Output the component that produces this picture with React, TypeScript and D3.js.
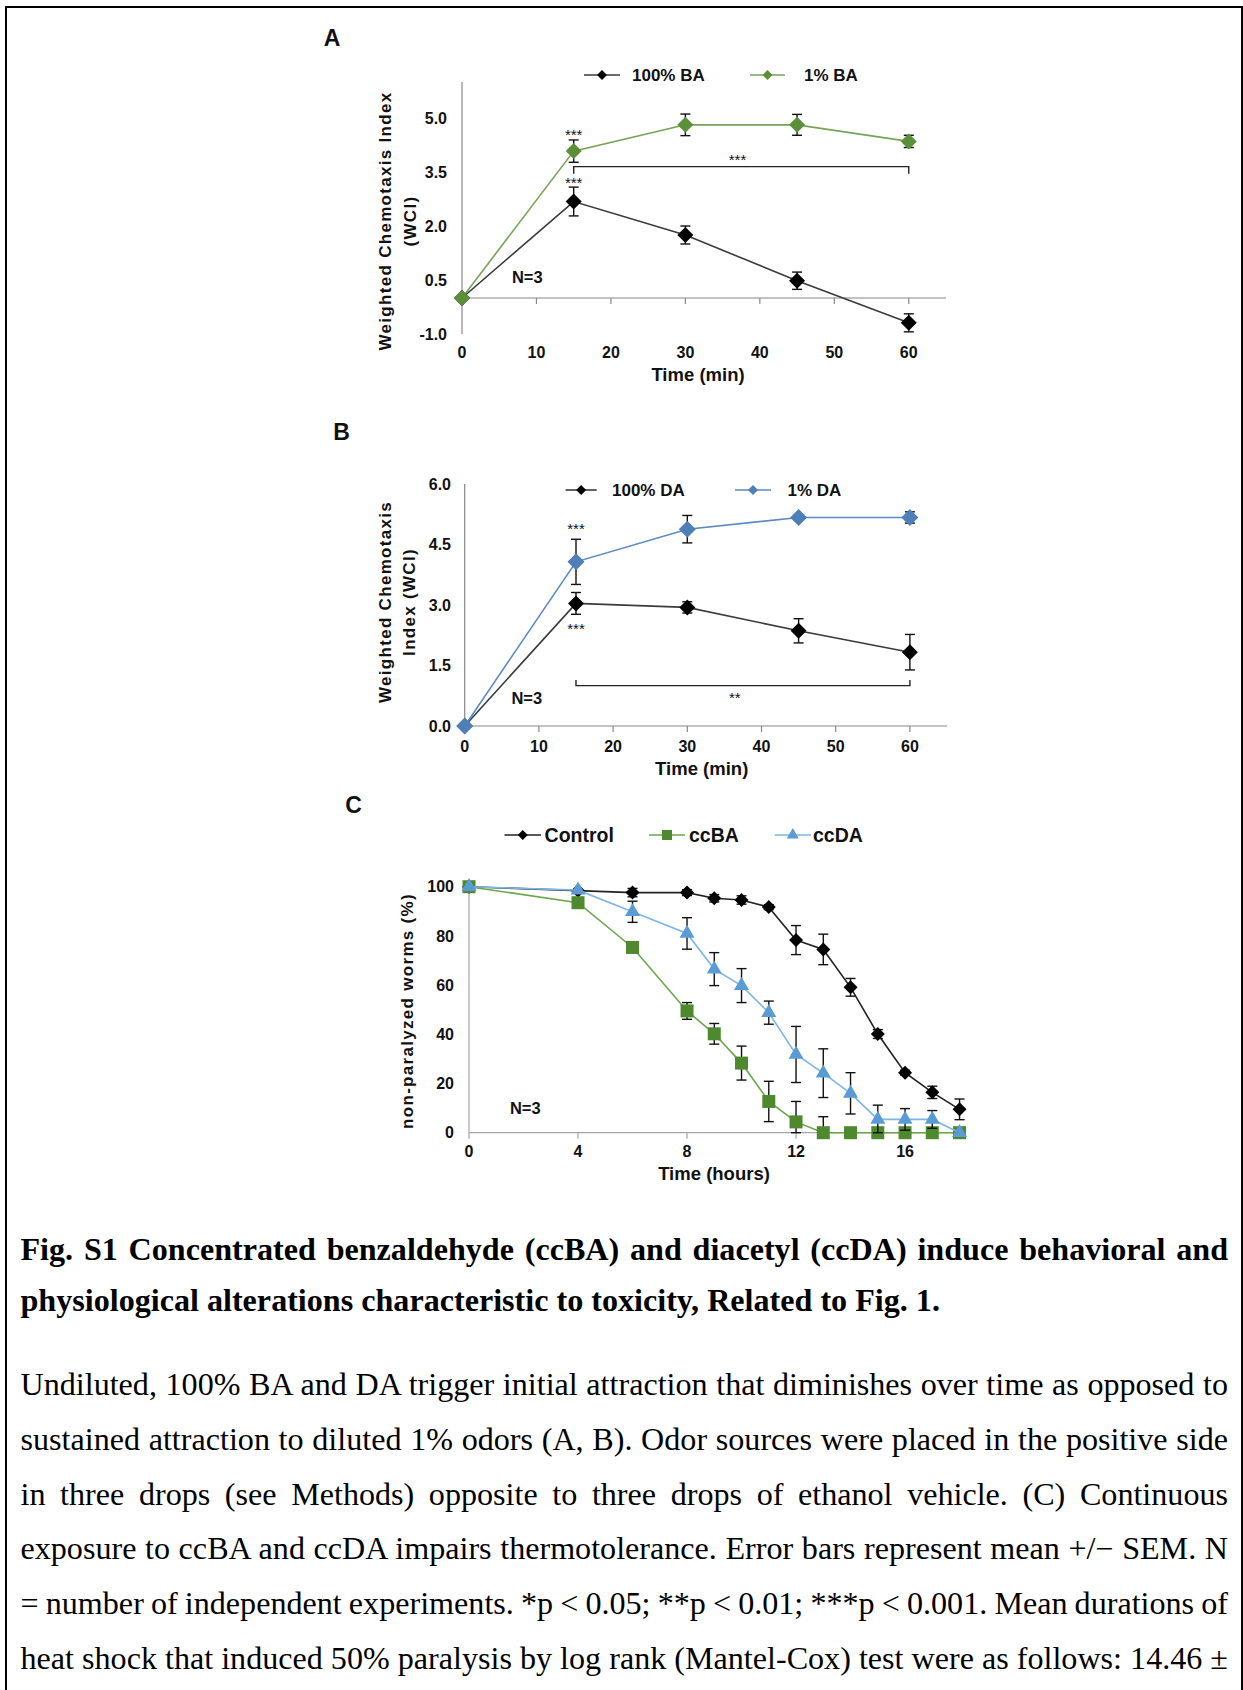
import React from "react";
import * as d3 from "d3";

// ---- panel A / B : chemotaxis (time in min) ----
const chemoTimes = [0, 15, 30, 45, 60];
const minuteTicks = [0, 10, 20, 30, 40, 50, 60];

const baFull = [0, 2.68, 1.75, 0.48, -0.69];
const baFullErr = [0, 0.4, 0.25, 0.24, 0.25];
const baDiluted = [0, 4.08, 4.81, 4.81, 4.35];
const baDilutedErr = [0, 0.31, 0.3, 0.29, 0.17];
const ticksA = [-1, 0.5, 2, 3.5, 5];

const daFull = [0, 3.04, 2.94, 2.36, 1.83];
const daFullErr = [0, 0.27, 0.14, 0.3, 0.44];
const daDiluted = [0, 4.07, 4.88, 5.17, 5.17];
const daDilutedErr = [0, 0.56, 0.34, 0.06, 0.14];
const ticksB = [0, 1.5, 3, 4.5, 6];

// ---- panel C : thermotolerance (time in hours) ----
const hours = [0, 4, 6, 8, 9, 10, 11, 12, 13, 14, 15, 16, 17, 18];
const hourTicks = [0, 4, 8, 12, 16];
const percentTicks = [0, 20, 40, 60, 80, 100];
const control = [100, 98.4, 97.6, 97.6, 95.3, 94.6, 91.7, 78.3, 74.5, 59.1, 40.1, 24.4, 16.4, 9.5];
const controlErr = [0, 0, 1.7, 1.2, 1.5, 1.7, 1, 5.9, 6.2, 3.6, 1.8, 1, 2.5, 4.2];
const ccBA = [100, 93.5, 75.3, 49.5, 40.2, 28.3, 12.7, 4.4, 0, 0, 0, 0, 0, 0];
const ccBAErr = [0, 0, 0, 3.4, 4.2, 6.9, 8.2, 8.3, 6.5, 2, 0, 0, 0, 0];
const ccDA = [100, 98.6, 89.8, 81, 66.5, 59.8, 48.8, 31.8, 24.2, 16, 5.4, 5.4, 5.4, 0];
const ccDAErr = [0, 0, 4.3, 6.4, 6.7, 6.9, 4.7, 11.4, 9.9, 8.4, 5.8, 4.4, 3.6, 0];

// ---- caption ----
const captionTitle = [
  "Fig. S1 Concentrated benzaldehyde (ccBA) and diacetyl (ccDA) induce behavioral and",
  "physiological alterations characteristic to toxicity, Related to Fig. 1.",
];
const captionBody = [
  "Undiluted, 100% BA and DA trigger initial attraction that diminishes over time as opposed to",
  "sustained attraction to diluted 1% odors (A, B). Odor sources were placed in the positive side",
  "in three drops (see Methods) opposite to three drops of ethanol vehicle. (C) Continuous",
  "exposure to ccBA and ccDA impairs thermotolerance. Error bars represent mean +/\u2212 SEM. N",
  "= number of independent experiments. *p < 0.05; **p < 0.01; ***p < 0.001. Mean durations of",
  "heat shock that induced 50% paralysis by log rank (Mantel-Cox) test were as follows: 14.46 \u00b1",
];

const SANS = "'Liberation Sans', Arial, sans-serif";
const SERIF = "'Liberation Serif', 'Times New Roman', serif";

const diamond = (r) => `M0,${-r}L${r},0L0,${r}L${-r},0Z`;
const square = (r) => `M${-r},${-r}H${r}V${r}H${-r}Z`;
const triangle = (r) => {
  const h = r * 1.732;
  return `M0,${(-h * 2) / 3}L${r},${h / 3}L${-r},${h / 3}Z`;
};

function Panel(props) {
  const {
    x, y, times, xTicks, yTicks, yFmt, letter, letterPos, axisColor,
    yLabelX, xLabelY, xTitle, xTitlePos, yTitles, yTitleY, series,
    legend, legendY, legendFont, notes, bracket, nLabel, clampZero,
  } = props;
  const [x0, x1] = x.range();
  const yLo = y(y.domain()[0]);
  const yHi = y(y.domain()[1]);
  const axisY = y(0);

  return (
    <g fontFamily={SANS} fill="#111">
      <text x={letterPos[0]} y={letterPos[1]} dy="0.35em" textAnchor="middle" fontSize={23} fontWeight="bold">
        {letter}
      </text>

      {/* axes */}
      <line x1={x0} x2={x0} y1={yLo} y2={yHi} stroke={axisColor} strokeWidth={1.2} />
      <line x1={x0} x2={x1} y1={axisY} y2={axisY} stroke={axisColor} strokeWidth={1.2} />
      {xTicks.map((t) => (
        <g key={t}>
          <line x1={x(t)} x2={x(t)} y1={axisY} y2={axisY + 6} stroke={axisColor} strokeWidth={1.2} />
          <text x={x(t)} y={xLabelY} dy="0.35em" textAnchor="middle" fontSize={16} fontWeight="bold">
            {t}
          </text>
        </g>
      ))}
      {yTicks.map((t) => (
        <text key={t} x={yLabelX} y={y(t)} dy="0.35em" textAnchor="end" fontSize={16} fontWeight="bold">
          {yFmt(t)}
        </text>
      ))}
      <text x={xTitlePos[0]} y={xTitlePos[1]} dy="0.35em" textAnchor="middle" fontSize={18.5} fontWeight="bold">
        {xTitle}
      </text>
      {yTitles.map((yt) => (
        <text
          key={yt.text}
          transform={`translate(${yt.x},${yTitleY}) rotate(-90)`}
          dy="0.35em"
          textAnchor="middle"
          fontSize={17}
          fontWeight="bold"
          letterSpacing={1.3}
        >
          {yt.text}
        </text>
      ))}

      {/* series */}
      {series.map((s) => {
        const line = d3
          .line()
          .x((_, i) => x(times[i]))
          .y((d) => y(d));
        return (
          <g key={s.name}>
            <path d={line(s.values)} fill="none" stroke={s.line} strokeWidth={1.6} />
            {s.values.map((v, i) => {
              const e = s.errors[i];
              if (!e) return null;
              const lo = clampZero ? Math.max(0, v - e) : v - e;
              const cx = x(times[i]);
              return (
                <g key={i} stroke="#111" strokeWidth={1.4}>
                  <line x1={cx} x2={cx} y1={y(lo)} y2={y(v + e)} />
                  <line x1={cx - 5} x2={cx + 5} y1={y(v + e)} y2={y(v + e)} />
                  {lo < v && <line x1={cx - 5} x2={cx + 5} y1={y(lo)} y2={y(lo)} />}
                </g>
              );
            })}
            {s.values.map((v, i) => (
              <path
                key={"m" + i}
                transform={`translate(${x(times[i])},${y(v)})`}
                d={s.shape(s.size)}
                fill={s.fill}
              />
            ))}
          </g>
        );
      })}

      {/* legend */}
      {legend.map((l) => {
        const s = series.find((d) => d.name === l.name);
        return (
          <g key={l.name}>
            <line x1={l.x1} x2={l.x2} y1={legendY} y2={legendY} stroke={s.line} strokeWidth={1.6} />
            <path transform={`translate(${(l.x1 + l.x2) / 2},${legendY})`} d={s.shape(l.size)} fill={s.fill} />
            <text x={l.tx} y={legendY} dy="0.35em" fontSize={legendFont} fontWeight="bold">
              {l.name}
            </text>
          </g>
        );
      })}

      {/* significance marks */}
      {notes.map((n, i) => (
        <text key={i} x={x(n.t)} y={y(n.v) + 8.5} textAnchor="middle" fontSize={15}>
          {n.text}
        </text>
      ))}
      {bracket && (
        <path
          d={`M${x(bracket.from)},${y(bracket.v + bracket.tick)}V${y(bracket.v)}H${x(bracket.to)}V${y(bracket.v + bracket.tick)}`}
          fill="none"
          stroke="#222"
          strokeWidth={1.4}
        />
      )}
      <text x={x(nLabel.t)} y={y(nLabel.v)} dy="0.35em" fontSize={16.5} fontWeight="bold">
        N=3
      </text>
    </g>
  );
}

export default function App() {
  const svgRef = React.useRef(null);

  const xA = d3.scaleLinear().domain([0, 65]).range([462, 946]);
  const yA = d3.scaleLinear().domain([-1, 6]).range([334, 82]);
  const xB = d3.scaleLinear().domain([0, 65]).range([464.7, 947]);
  const yB = d3.scaleLinear().domain([0, 6]).range([726, 484]);
  const xC = d3.scaleLinear().domain([0, 18.2]).range([469, 965]);
  const yC = d3.scaleLinear().domain([0, 100]).range([1132.7, 886.7]);

  const black = { line: "#3a3a3a", fill: "#000", shape: diamond, size: 8 };

  React.useEffect(() => {
    // justify caption lines by spreading the word gaps
    d3.select(svgRef.current)
      .selectAll("text.justify")
      .each(function () {
        const el = d3.select(this);
        el.attr("word-spacing", 0);
        const target = +el.attr("data-width");
        const len = this.getComputedTextLength();
        const gaps = (this.textContent || "").split(" ").length - 1;
        if (gaps > 0) el.attr("word-spacing", (target - len) / gaps);
      });
  }, []);

  const capLeft = 20.5;
  const capWidth = 1228 - capLeft;
  const stretch = 1.02; // the scanned caption type runs a little wide

  return (
    <svg
      ref={svgRef}
      width={1243}
      height={1690}
      style={{ position: "absolute", left: 0, top: 0, background: "#fff" }}
    >
      <rect width={1243} height={1690} fill="#fff" />
      <path d="M6,1690V7H1242V1690" fill="none" stroke="#000" strokeWidth={2} />

      <Panel
        x={xA}
        y={yA}
        times={chemoTimes}
        xTicks={minuteTicks}
        yTicks={ticksA}
        yFmt={(t) => t.toFixed(1)}
        letter="A"
        letterPos={[332, 38]}
        axisColor="#888"
        yLabelX={447}
        xLabelY={352}
        xTitle="Time (min)"
        xTitlePos={[698, 375]}
        yTitles={[
          { text: "Weighted Chemotaxis Index", x: 385 },
          { text: "(WCI)", x: 410 },
        ]}
        yTitleY={221}
        series={[
          { name: "100% BA", values: baFull, errors: baFullErr, ...black },
          { name: "1% BA", values: baDiluted, errors: baDilutedErr, line: "#76a356", fill: "#5b8f38", shape: diamond, size: 8 },
        ]}
        legend={[
          { name: "100% BA", x1: 584, x2: 620, tx: 632, size: 5 },
          { name: "1% BA", x1: 750, x2: 785, tx: 804, size: 5 },
        ]}
        legendY={75}
        legendFont={17}
        notes={[
          { t: 15, v: 4.62, text: "***" },
          { t: 15, v: 3.28, text: "***" },
          { t: 37, v: 3.92, text: "***" },
        ]}
        bracket={{ from: 15, to: 60, v: 3.65, tick: -0.2 }}
        nLabel={{ t: 6.7, v: 0.59 }}
      />

      <Panel
        x={xB}
        y={yB}
        times={chemoTimes}
        xTicks={minuteTicks}
        yTicks={ticksB}
        yFmt={(t) => t.toFixed(1)}
        letter="B"
        letterPos={[341.5, 431.7]}
        axisColor="#888"
        yLabelX={451}
        xLabelY={746.7}
        xTitle="Time (min)"
        xTitlePos={[701.7, 768.3]}
        yTitles={[
          { text: "Weighted Chemotaxis", x: 385 },
          { text: "Index (WCI)", x: 408.7 },
        ]}
        yTitleY={602}
        series={[
          { name: "100% DA", values: daFull, errors: daFullErr, ...black },
          { name: "1% DA", values: daDiluted, errors: daDilutedErr, line: "#5a8ac6", fill: "#4f7fb8", shape: diamond, size: 8.5 },
        ]}
        legend={[
          { name: "100% DA", x1: 565.6, x2: 596.7, tx: 612, size: 5 },
          { name: "1% DA", x1: 735, x2: 771, tx: 787.5, size: 5 },
        ]}
        legendY={490}
        legendFont={17}
        notes={[
          { t: 15, v: 4.98, text: "***" },
          { t: 15, v: 2.5, text: "***" },
          { t: 36.4, v: 0.77, text: "**" },
        ]}
        bracket={{ from: 15, to: 60, v: 1.0, tick: 0.14 }}
        nLabel={{ t: 6.3, v: 0.69 }}
      />

      <Panel
        x={xC}
        y={yC}
        times={hours}
        xTicks={hourTicks}
        yTicks={percentTicks}
        yFmt={(t) => String(t)}
        letter="C"
        letterPos={[353.6, 805]}
        axisColor="#a6a6a6"
        yLabelX={454}
        xLabelY={1151.7}
        xTitle="Time (hours)"
        xTitlePos={[714, 1173.3]}
        yTitles={[{ text: "non-paralyzed worms (%)", x: 407 }]}
        yTitleY={1011}
        clampZero
        series={[
          { name: "Control", values: control, errors: controlErr, line: "#222", fill: "#000", shape: diamond, size: 7 },
          { name: "ccBA", values: ccBA, errors: ccBAErr, line: "#6aa64a", fill: "#4e8a2d", shape: square, size: 6.5 },
          { name: "ccDA", values: ccDA, errors: ccDAErr, line: "#7db6e6", fill: "#5b9bd5", shape: triangle, size: 7.5 },
        ]}
        legend={[
          { name: "Control", x1: 504.5, x2: 541, tx: 544.6, size: 5 },
          { name: "ccBA", x1: 649, x2: 685, tx: 689, size: 5 },
          { name: "ccDA", x1: 774.6, x2: 811, tx: 813, size: 6 },
        ]}
        legendY={835}
        legendFont={19.5}
        notes={[]}
        bracket={null}
        nLabel={{ t: 1.5, v: 10 }}
      />

      {/* caption */}
      <g fontFamily={SERIF} fontSize={31.5} fill="#000">
        {captionTitle.map((line, i) => (
          <text
            key={line}
            className={i === 0 ? "justify" : undefined}
            data-width={capWidth / stretch}
            transform={`translate(${capLeft},${1260 + i * 51}) scale(${stretch},1)`}
            fontWeight="bold"
          >
            {line}
          </text>
        ))}
        {captionBody.map((line, i) => (
          <text
            key={line}
            className="justify"
            data-width={capWidth / stretch}
            transform={`translate(${capLeft},${1395 + i * 54.8}) scale(${stretch},1)`}
          >
            {line}
          </text>
        ))}
      </g>
    </svg>
  );
}
